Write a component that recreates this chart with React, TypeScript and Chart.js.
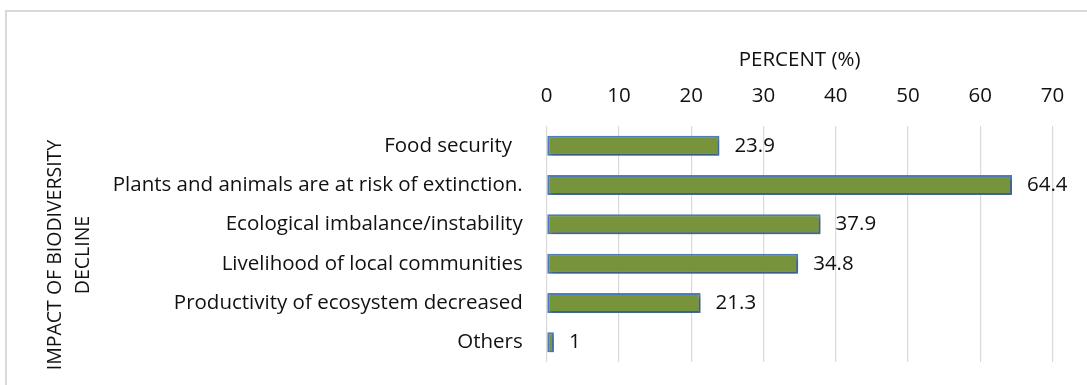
import React, { useEffect, useRef } from "react";
import { Chart, registerables } from "chart.js";

Chart.register(...registerables);

const categories = [
  "Food security  ",
  "Plants and animals are at risk of extinction.",
  "Ecological imbalance/instability",
  "Livelihood of local communities",
  "Productivity of ecosystem decreased",
  "Others",
];
const percentValues = [23.9, 64.4, 37.9, 34.8, 21.3, 1];
const xTickMin = 0;
const xTickMax = 70;
const xTickStep = 10;
const xTitle = "PERCENT (%)";
const yTitleLines = ["IMPACT OF BIODIVERSITY", "DECLINE"];

const FONT = "'Open Sans', sans-serif";

const barEffects = {
  id: "barEffects",
  beforeDatasetsDraw(chart: any) {
    const ctx = chart.ctx;
    ctx.save();
    ctx.shadowColor = "rgba(0,0,0,0.35)";
    ctx.shadowBlur = 4;
    ctx.shadowOffsetX = 2;
    ctx.shadowOffsetY = 2;
  },
  afterDatasetsDraw(chart: any) {
    const ctx = chart.ctx;
    ctx.restore();
    const meta = chart.getDatasetMeta(0);
    const data = chart.data.datasets[0].data as number[];
    ctx.save();
    ctx.font = `20.5px ${FONT}`;
    ctx.fillStyle = "#111";
    ctx.textAlign = "left";
    ctx.textBaseline = "middle";
    meta.data.forEach((bar: any, i: number) => {
      ctx.fillText(String(data[i]), bar.x + 15, bar.y);
    });
    ctx.restore();
  },
};

const yTitlePlugin = {
  id: "yTitlePlugin",
  afterDraw(chart: any) {
    const ctx = chart.ctx;
    const area = chart.chartArea;
    const cy = (area.top + area.bottom) / 2 + 11;
    const xs = [55, 83.5];
    ctx.save();
    ctx.font = `19.5px ${FONT}`;
    ctx.fillStyle = "#111";
    ctx.textAlign = "center";
    ctx.textBaseline = "middle";
    yTitleLines.forEach((line, i) => {
      ctx.save();
      ctx.translate(xs[i], cy);
      ctx.rotate(-Math.PI / 2);
      ctx.fillText(line, 0, 0);
      ctx.restore();
    });
    ctx.restore();
  },
};

export default function App() {
  const canvasRef = useRef<HTMLCanvasElement | null>(null);

  useEffect(() => {
    if (!canvasRef.current) return;
    const chart = new Chart(canvasRef.current, {
      type: "bar",
      data: {
        labels: categories,
        datasets: [
          {
            data: percentValues,
            backgroundColor: "#77933C",
            borderColor: "#4F81BD",
            borderWidth: 2,
            borderSkipped: false,
            barPercentage: 0.51,
            categoryPercentage: 1,
          },
        ],
      },
      options: {
        indexAxis: "y",
        animation: false,
        responsive: false,
        maintainAspectRatio: false,
        layout: { padding: { top: 40, right: 34.5, bottom: 23, left: 0 } },
        plugins: {
          legend: { display: false },
          tooltip: { enabled: false },
          title: { display: false },
        },
        scales: {
          x: {
            position: "top",
            min: xTickMin,
            max: xTickMax,
            ticks: {
              stepSize: xTickStep,
              padding: 18,
              color: "#111",
              font: { family: FONT, size: 20.5 },
            },
            grid: { color: "#d9d9d9", lineWidth: 1.2, drawTicks: false },
            border: { display: false },
            title: {
              display: true,
              text: xTitle,
              color: "#111",
              font: { family: FONT, size: 20.5 },
              padding: { top: 7.7, bottom: 11 },
            },
            afterFit: (scale: any) => {
              scale.height = 86;
            },
          },
          y: {
            ticks: {
              padding: 24,
              color: "#111",
              font: { family: FONT, size: 20.5 },
            },
            grid: { display: false, drawTicks: false },
            border: { display: false },
            afterFit: (scale: any) => {
              scale.width = 546.7;
              scale.paddingTop = 0;
              scale.paddingBottom = 0;
            },
          },
        },
      },
      plugins: [barEffects, yTitlePlugin],
    });
    return () => chart.destroy();
  }, []);

  return (
    <div
      style={{
        position: "absolute",
        left: 0,
        top: 0,
        width: 1087,
        height: 385,
        overflow: "hidden",
        background: "#fff",
      }}
    >
      <div
        style={{
          position: "absolute",
          left: 5,
          top: 10,
          width: 1120,
          height: 420,
          border: "2px solid #d9d9d9",
          boxSizing: "border-box",
        }}
      />
      <canvas
        ref={canvasRef}
        width={1087}
        height={385}
        style={{ position: "absolute", left: 0, top: 0, width: 1087, height: 385 }}
      />
    </div>
  );
}
